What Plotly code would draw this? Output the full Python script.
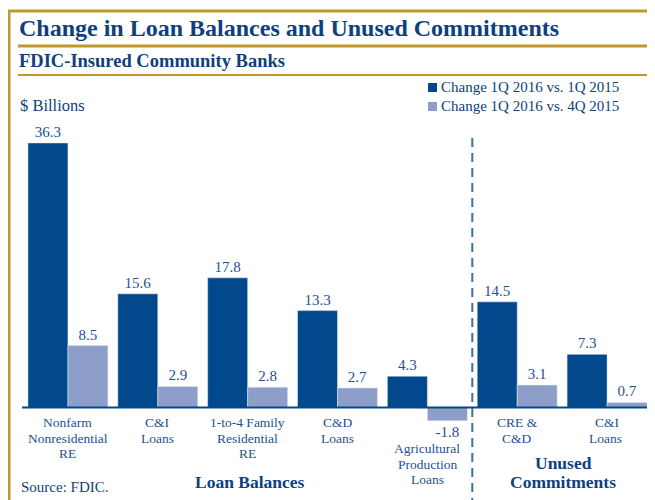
import plotly.graph_objects as go

# data
categories = ["Nonfarm<br>Nonresidential<br>RE", "C&amp;I<br>Loans", "1-to-4 Family<br>Residential<br>RE",
              "C&amp;D<br>Loans", "Agricultural<br>Production<br>Loans", "CRE &amp;<br>C&amp;D", "C&amp;I<br>Loans "]
yoy_change = [36.3, 15.6, 17.8, 13.3, 4.3, 14.5, 7.3]
qoq_change = [8.5, 2.9, 2.8, 2.7, -1.8, 3.1, 0.7]
series_names = ["Change 1Q 2016 vs. 1Q 2015", "Change 1Q 2016 vs. 4Q 2015"]

DARK = "#01498c"
LIGHT = "#8d9fc8"
GOLD = "#bf9a2a"
NAVY = "#0e3f7e"
TXT = "#1d5192"
FONT = "Liberation Serif"

W, H = 655, 500
OFF = 8  # page body margin offset
L, R, T, B = 15, 11, 108, 64
PW, PH = W - L - R, H - T - B


def px(x):
    # reference pixel -> paper x
    return (x - OFF - L) / PW


def py(y):
    # reference pixel -> paper y
    return (H - B - (y - OFF)) / PH


fig = go.Figure()
fig.add_trace(go.Bar(x=categories, y=yoy_change, name=series_names[0], marker_color=DARK,
                     text=[f"{v:.1f}" for v in yoy_change], textposition="outside",
                     textfont=dict(color=TXT, size=15, family=FONT), cliponaxis=False))
fig.add_trace(go.Bar(x=categories, y=qoq_change, name=series_names[1], marker_color=LIGHT,
                     text=[f"{v:.1f}" for v in qoq_change], textposition="outside",
                     textfont=dict(color=TXT, size=15, family=FONT), cliponaxis=False))

annotations = []
# category labels under the zero line, one annotation per line
for c in categories:
    first = -41 if c.startswith("Agri") else -15
    for j, line in enumerate(c.split("<br>")):
        annotations.append(dict(x=c, y=0, xref="x", yref="y", text=line, showarrow=False,
                                xanchor="center", yanchor="middle", yshift=first - 15.5 * j,
                                font=dict(size=13.5, color=TXT, family=FONT)))

# titles and free text
annotations += [
    dict(x=px(17), y=py(28), text="<b>Change in Loan Balances and Unused Commitments</b>",
         xanchor="left", font=dict(size=24, color=NAVY, family=FONT)),
    dict(x=px(17), y=py(61), text="<b>FDIC-Insured Community Banks</b>",
         xanchor="left", font=dict(size=18.5, color=NAVY, family=FONT)),
    dict(x=px(18), y=py(105), text="$ Billions", xanchor="left",
         font=dict(size=16.5, color=NAVY, family=FONT)),
    dict(x=px(250), y=py(482), text="<b>Loan Balances</b>", xanchor="center",
         font=dict(size=17.5, color=NAVY, family=FONT)),
    dict(x=px(563), y=py(463), text="<b>Unused</b>", xanchor="center",
         font=dict(size=17.5, color=NAVY, family=FONT)),
    dict(x=px(563), y=py(482), text="<b>Commitments</b>", xanchor="center",
         font=dict(size=17.5, color=NAVY, family=FONT)),
    dict(x=px(19), y=py(487), text="Source: FDIC.", xanchor="left",
         font=dict(size=15, color=NAVY, family=FONT)),
]
# manual legend
for k, name in enumerate(series_names):
    yc = 87 + 19 * k
    annotations.append(dict(x=px(439), y=py(yc), text=name, xanchor="left",
                            font=dict(size=15, color=NAVY, family=FONT)))
for a in annotations:
    a.setdefault("xref", "paper")
    a.setdefault("yref", "paper")
    a.setdefault("yanchor", "middle")
    a.setdefault("showarrow", False)

shapes = []
for k, col in enumerate([DARK, LIGHT]):
    yc = 87 + 19 * k
    shapes.append(dict(type="rect", xref="paper", yref="paper", x0=px(428), x1=px(437),
                       y0=py(yc + 5), y1=py(yc - 4), fillcolor=col, line_width=0))
shapes += [
    # gold frame and rules
    dict(type="line", xref="paper", yref="paper", x0=px(8), x1=px(670), y0=py(11), y1=py(11),
         line=dict(color=GOLD, width=3)),
    dict(type="line", xref="paper", yref="paper", x0=px(9), x1=px(9), y0=py(10), y1=py(510),
         line=dict(color=GOLD, width=3)),
    dict(type="line", xref="paper", yref="paper", x0=px(18), x1=px(670), y0=py(46), y1=py(46),
         line=dict(color=GOLD, width=3)),
    dict(type="line", xref="paper", yref="paper", x0=px(18), x1=px(670), y0=py(75), y1=py(75),
         line=dict(color=GOLD, width=2)),
    # zero line
    dict(type="line", xref="paper", yref="y", x0=px(22), x1=px(652), y0=0, y1=0,
         line=dict(color=DARK, width=2)),
    # divider between loan balances and unused commitments
    dict(type="line", xref="x", yref="paper", x0=4.5, x1=4.5, y0=py(138), y1=py(510),
         line=dict(color="#3d6fa5", width=2, dash="9px,6px")),
]

fig.update_layout(
    width=W, height=H,
    margin=dict(l=L, r=R, t=T, b=B),
    paper_bgcolor="white", plot_bgcolor="white",
    barmode="group", bargap=0.11, bargroupgap=0,
    showlegend=False,
    xaxis=dict(showticklabels=False, showgrid=False, zeroline=False, range=[-0.5, 6.5]),
    yaxis=dict(showticklabels=False, showgrid=False, zeroline=False, range=[-5, 40]),
    annotations=annotations,
    shapes=shapes,
)

fig.write_html("out.html")
